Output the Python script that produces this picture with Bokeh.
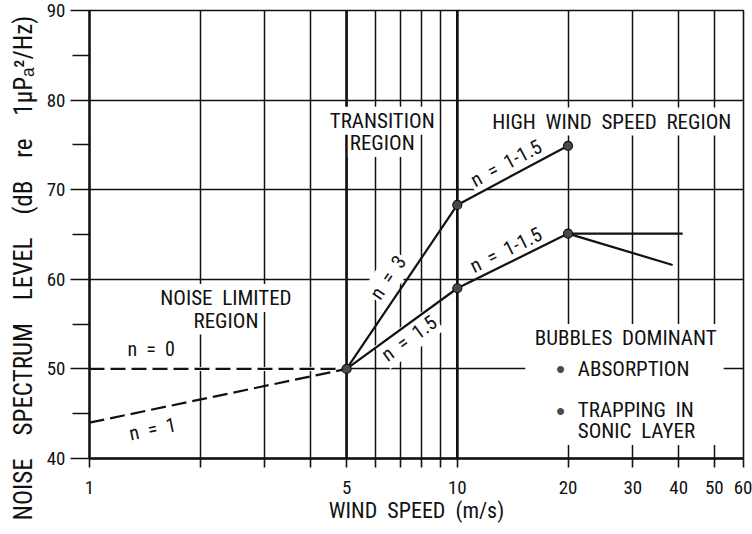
import math

from bokeh.embed import file_html
from bokeh.models import BoxAnnotation, CustomJSTickFormatter, FixedTicker, Label, Span, Title
from bokeh.plotting import figure
from bokeh.resources import INLINE

FONT = "Liberation Sans Narrow, Arial Narrow, Roboto Condensed, Liberation Sans, sans-serif"
INK = "#111111"

# ---- axes ---------------------------------------------------------------
x_ticks = [1, 2, 3, 4, 5, 6, 7, 8, 9, 10, 20, 30, 40, 50, 60]
x_labeled = [1, 5, 10, 20, 30, 40, 50, 60]
y_ticks = [40, 50, 60, 70, 80, 90]
y_minor = [45, 55, 65, 75, 85]

# ---- curves (wind speed m/s, level dB) ---------------------------------
# noise limited region
n0_speed = [1, 5]
n0_level = [50, 50]
n1_speed = [1, 5]
n1_level = [44, 50]
# transition region
n3_speed = [5, 10]
n3_level = [50, 68.3]
n15_speed = [5, 10]
n15_level = [50, 59.0]
# high wind speed region
hi_abs_speed = [10, 20]
hi_abs_level = [68.3, 74.9]
hi_trap_speed = [10, 20]
hi_trap_level = [59.0, 65.1]
flat_speed = [20, 41]
flat_level = [65.1, 65.1]
fall_speed = [20, 38.5]
fall_level = [65.1, 61.6]
# knee points
knee_speed = [5, 10, 10, 20, 20]
knee_level = [50, 68.3, 59.0, 74.9, 65.1]

NB = "\u00a0"


def wide(text, n=2):
    """Widen the word gaps (plain spaces collapse in SVG text)."""
    return text.replace(" ", NB * n)


W, H = 752, 534
BL, BR, BT, BB = 87, 9, 10, 76
X0, X1, Y0, Y1 = 1, 60, 40, 90

p = figure(width=W, height=H, x_axis_type="log", x_range=(X0, X1), y_range=(Y0, Y1),
           output_backend="svg", toolbar_location=None,
           min_border_left=BL, min_border_right=BR, min_border_top=BT, min_border_bottom=BB)

p.background_fill_color = "white"
p.border_fill_color = "white"
p.outline_line_color = INK
p.outline_line_width = 1.6

xt = FixedTicker(ticks=x_ticks, minor_ticks=[])
p.xaxis.ticker = xt
p.xgrid.ticker = xt
p.xaxis.formatter = CustomJSTickFormatter(
    args=dict(shown=x_labeled),
    code="return shown.includes(Math.round(tick)) ? String(Math.round(tick)) : ''")
yt = FixedTicker(ticks=y_ticks, minor_ticks=y_minor)
p.yaxis.ticker = yt
p.ygrid.ticker = yt

for g in (p.xgrid, p.ygrid):
    g.grid_line_color = INK
    g.grid_line_width = 1.5
    g.grid_line_alpha = 1.0

for ax in (p.xaxis, p.yaxis):
    ax.axis_line_color = INK
    ax.axis_line_width = 2.4
    ax.major_tick_line_color = INK
    ax.major_tick_line_width = 1.6
    ax.minor_tick_line_color = INK
    ax.minor_tick_line_width = 1.6
    ax.major_tick_in = 0
    ax.minor_tick_in = 0
    ax.major_label_text_font = FONT
    ax.major_label_text_font_size = "19px"
    ax.major_label_text_color = INK
    ax.axis_label_text_font = FONT
    ax.axis_label_text_font_style = "normal"
    ax.axis_label_text_color = INK

p.xaxis.major_tick_out = 9
p.xaxis.major_label_standoff = 13
p.xaxis.axis_label = wide("WIND SPEED (m/s)")
p.xaxis.axis_label_text_font_size = "22px"
p.xaxis.axis_label_standoff = 1

p.yaxis.major_tick_out = 19
p.yaxis.minor_tick_out = 17
p.yaxis.major_label_standoff = 5

# vertical title in the left margin, starting a little below the frame
p.add_layout(Title(text=wide("NOISE SPECTRUM LEVEL (dB re 1\u03bcP\u2090\u00b2/Hz)", 4),
                   align="left", offset=-62, standoff=12,
                   text_font=FONT, text_font_size="25px", text_font_style="normal",
                   text_color=INK), "left")

# heavier region boundaries at 5 and 10 m/s
for loc in (5, 10):
    p.add_layout(Span(location=loc, dimension="height", line_color=INK, line_width=2.6,
                      level="underlay"))

# geometry helpers for text placed along the curves
FW = W - BL - BR
FH = H - BT - BB
PX_DEC = FW / (math.log10(X1) - math.log10(X0))
PX_DB = FH / (Y1 - Y0)


def along(xs, ys, t, d):
    """Point at fraction t of a segment, its screen angle and a normal offset of d px."""
    lx0, lx1 = math.log10(xs[0]), math.log10(xs[1])
    dx = (lx1 - lx0) * PX_DEC
    dy = (ys[1] - ys[0]) * PX_DB
    ang = math.atan2(dy, dx)
    x = 10 ** (lx0 + t * (lx1 - lx0))
    y = ys[0] + t * (ys[1] - ys[0])
    return x, y, math.degrees(ang), -math.sin(ang) * d, math.cos(ang) * d


def note(x, y, text, size="21px", align="center", angle=0.0, xo=0.0, yo=0.0, pad=2,
         bg="white", color=INK):
    # drawn beneath the curves so the white box only knocks out the grid
    p.add_layout(Label(x=x, y=y, text=text, angle=angle, angle_units="deg",
                       x_offset=xo, y_offset=yo, text_align=align, text_baseline="middle",
                       text_font=FONT, text_font_size=size, text_color=color,
                       background_fill_color=bg, padding=pad, level="underlay"))


# blank the block behind the bubble notes
p.add_layout(BoxAnnotation(left=15.3, right=53, bottom=41.5, top=55.0,
                           fill_color="white", fill_alpha=1.0, line_alpha=0.0,
                           level="underlay"))

# region titles
note(6.25, 77.7, "TRANSITION")
note(6.25, 75.2, "REGION")
note(26.3, 77.6, wide("HIGH WIND SPEED REGION"))
note(2.35, 57.9, wide("NOISE LIMITED"))
note(2.35, 55.4, "REGION")

# slope labels
for xs, ys, t, d, txt in ((n0_speed, n0_level, 0.24, 20, "n = 0"),
                          (n1_speed, n1_level, 0.23, -19, "n = 1"),
                          (n3_speed, n3_level, 0.50, 17, "n = 3"),
                          (n15_speed, n15_level, 0.50, -12, "n = 1.5"),
                          (hi_abs_speed, hi_abs_level, 0.50, 14, "n = 1-1.5"),
                          (hi_trap_speed, hi_trap_level, 0.49, 13, "n = 1-1.5")):
    x, y, ang, xo, yo = along(xs, ys, t, d)
    note(x, y, wide(txt), size="20px", angle=ang, xo=xo, yo=yo, pad=2)

# bubble notes
note(28.7, 53.4, wide("BUBBLES DOMINANT"), bg=None)
note(19.1, 50.0, "\u25cf", size="16px", bg=None, color="#4a4a4a")
note(21.0, 50.0, "ABSORPTION", align="left", bg=None)
note(19.1, 45.4, "\u25cf", size="16px", bg=None, color="#4a4a4a")
note(21.0, 45.4, wide("TRAPPING IN"), align="left", bg=None)
note(21.0, 43.1, wide("SONIC LAYER"), align="left", bg=None)

# n = 0 runs over the 50 dB grid line: clear it first
p.line(n0_speed, n0_level, line_color="white", line_width=4)
p.line(n0_speed, n0_level, line_color=INK, line_width=2.2, line_dash="15 6")
p.line(n1_speed, n1_level, line_color=INK, line_width=2.2, line_dash="15 6")

for xs, ys in ((n3_speed, n3_level), (n15_speed, n15_level),
               (hi_abs_speed, hi_abs_level), (hi_trap_speed, hi_trap_level),
               (flat_speed, flat_level), (fall_speed, fall_level)):
    p.line(xs, ys, line_color=INK, line_width=2.2)

p.scatter(knee_speed, knee_level, size=9, fill_color="#4a4a4a", line_color=INK, line_width=1.2)

open("out.html", "w").write(file_html(p, INLINE))
